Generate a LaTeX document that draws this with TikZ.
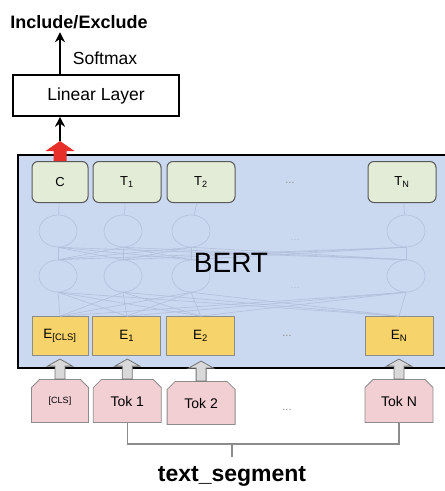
\documentclass[tikz,border=0pt]{standalone}
\usepackage{fontspec}
\setmainfont{Liberation Sans}
\usetikzlibrary{arrows.meta,positioning,shapes.misc,shapes.geometric}
\definecolor{bertbg}{HTML}{CAD8F0}
\definecolor{outbox}{HTML}{E3ECD6}
\definecolor{embbox}{HTML}{F6D36B}
\definecolor{tokbox}{HTML}{F2CFD2}
\definecolor{faint}{HTML}{B3C0DB}
\definecolor{arrgray}{HTML}{D9D9D9}
\definecolor{arrred}{HTML}{E8302A}

\begin{document}
\begin{tikzpicture}[x=1pt, y=-1pt,
  outn/.style={draw=black!65, fill=outbox, rounded corners=6pt, line width=1pt, minimum width=68pt, minimum height=41pt, font=\fontsize{13}{15}\selectfont},
  embn/.style={draw=black!45, fill=embbox, line width=0.8pt, minimum width=68pt, minimum height=39pt, font=\fontsize{13.5}{15}\selectfont},
  tokn/.style={chamfered rectangle, chamfered rectangle corners={north west,north east}, chamfered rectangle xsep=4.5pt, draw=black!45, fill=tokbox, line width=0.8pt, minimum width=68pt, minimum height=43pt, font=\fontsize{14}{16}\selectfont},
  unit/.style={ellipse, draw=faint, line width=0.6pt, minimum width=38pt, minimum height=32pt, inner sep=0pt},
  dotsn/.style={text=black!45, font=\fontsize{11}{12}\selectfont},
  arr/.style={-{Stealth[length=10pt, width=10pt]}, line width=2pt},
  brk/.style={draw=black!45, line width=1.2pt},
  redup/.pic={\fill[arrred] (-6.5,0) -- (-6.5,-10) -- (-14.5,-10) -- (0,-20) -- (14.5,-10) -- (6.5,-10) -- (6.5,0) -- cycle;},
  grayup/.pic={\filldraw[fill=arrgray, draw=black!55, line width=0.8pt] (-5,0) -- (-5,-13) -- (-12.5,-13) -- (0,-20) -- (12.5,-13) -- (5,-13) -- (5,0) -- cycle;}
]
\useasboundingbox (0,0) rectangle (445,491);

% output head
\node[font=\bfseries\fontsize{18}{20}\selectfont] (incl) at (79,22) {Include/Exclude};
\node[draw, line width=1.6pt, minimum width=166pt, minimum height=41pt, font=\fontsize{17.5}{19}\selectfont] (lin) at (96,95.5) {Linear Layer};
\node[font=\fontsize{17.5}{19}\selectfont] (soft) at (105,58) {Softmax};

% BERT block
\node[draw, fill=bertbg, line width=2pt, minimum width=440pt, minimum height=213pt, anchor=north west] (bert) at (17,154) {};

\node[outn, minimum width=56pt] (c) at (60,182) {C};
\node[outn, right=4pt of c] (t1) {T\textsubscript{1}};
\node[outn, right=5pt of t1] (t2) {T\textsubscript{2}};
\node[dotsn] (tdots) at (290,183) {...};
\node[outn] (tn) at (402,182) {T\textsubscript{N}};

\node[embn, minimum width=56pt] (ecls) at (60,336) {E\textsubscript{[CLS]}};
\node[embn, right=4pt of ecls] (e1) {E\textsubscript{1}};
\node[embn, right=5pt of e1] (e2) {E\textsubscript{2}};
\node[dotsn] (edots) at (287,336) {...};
\node[embn] (en) at (399,336) {E\textsubscript{N}};

% faint transformer units
\foreach \k/\x in {0/58,1/123,2/191,3/406} {
  \node[unit] (u\k) at (\x,231) {};
  \node[unit] (v\k) at (\x,276) {};
}
\node[dotsn, text=faint] (udots) at (295,240) {...};
\node[dotsn, text=faint] (vdots) at (295,288) {...};
\foreach \i/\j in {c/u0,t1/u1,t2/u2,tn/u3}
  \draw[faint, line width=0.6pt] (\i) -- (\j);
\foreach \a in {0,...,3} {
  \foreach \b in {0,...,3} {
    \draw[faint, line width=0.6pt] (v\a.north) -- (u\b.south);
  }
}
\foreach \e in {ecls,e1,e2,en} {
  \foreach \b in {0,...,3} {
    \draw[faint, line width=0.6pt] (\e.north) -- (v\b.south);
  }
}
\node[font=\fontsize{28}{30}\selectfont] (bertlbl) at (231,263) {BERT};

% input tokens
\node[tokn, minimum width=57pt, font=\fontsize{9}{10}\selectfont] (tcls) at (60,401) {[CLS]};
\node[tokn, right=4pt of tcls] (tok1) {Tok 1};
\node[tokn, right=5pt of tok1, yshift=-2pt] (tok2) {Tok 2};
\node[dotsn] (tokdots) at (287,410) {...};
\node[tokn] (tokn) at (399,401) {Tok N};

\foreach \t in {tcls,tok1,tok2,tokn}
  \pic at (\t.north) {grayup};
\pic at (c.north) {redup};

\coordinate[above=20pt of c.north] (ctip);
\draw[arr] (ctip) -- (c |- lin.south);
\draw[arr] (c |- lin.north) -- (c |- incl.south);

% segment bracket
\draw[brk] (tok1.south) -- ++(0,21) coordinate (bl) -| (tokn.south);
\coordinate (brkmid) at (232,0 |- bl);
\node[font=\bfseries\fontsize{23}{25}\selectfont] (seg) at (232,476) {text\_segment};
\draw[brk] (brkmid) -- ++(0,13);
\end{tikzpicture}
\end{document}
